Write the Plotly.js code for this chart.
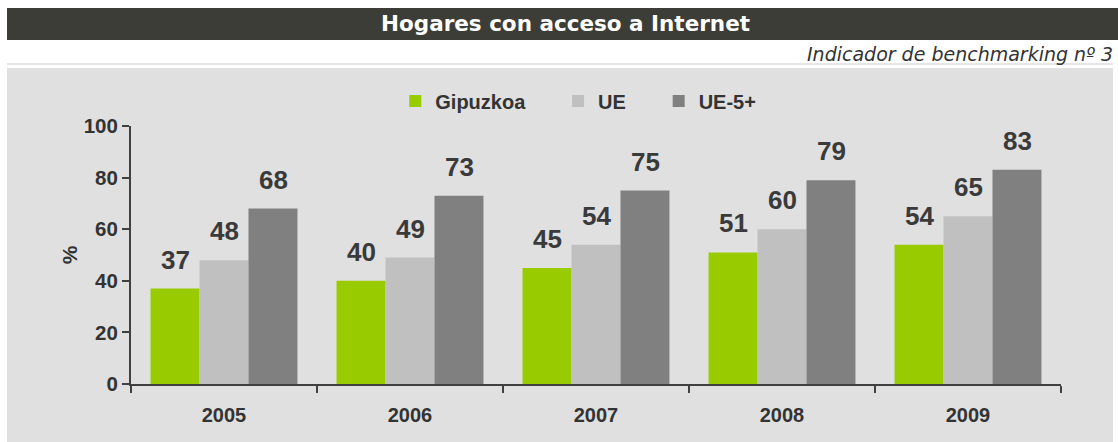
<!DOCTYPE html>
<html>
<head>
<meta charset="utf-8">
<script src="https://cdn.plot.ly/plotly-3.0.1.min.js"></script>
<style>
  body { margin: 0; background: #ffffff; }
  #chart { width: 1118px; height: 442px; }
</style>
</head>
<body>
<div id="chart"></div>
<script>
// Hogares con acceso a Internet (%)
const years = ['2005', '2006', '2007', '2008', '2009'];
const gipuzkoa = [37, 40, 45, 51, 54];
const ue = [48, 49, 54, 60, 65];
const ue5 = [68, 73, 75, 79, 83];
const yTicks = [0, 20, 40, 60, 80, 100];

const seriesNames = ['Gipuzkoa', 'UE', 'UE-5+'];
const seriesValues = [gipuzkoa, ue, ue5];
const seriesColors = ['#99cc00', '#c0c0c0', '#808080'];

const baseFont = "'Liberation Sans', Arial, sans-serif";
const legendPad = '\u00a0\u00a0\u00a0\u00a0\u00a0';

const traces = seriesNames.map((name, i) => ({
    type: 'bar',
    x: years,
    y: seriesValues[i],
    name: name + legendPad,
    marker: { color: seriesColors[i] },
    hovertemplate: '%{x}<br>' + name + ': %{y}<extra></extra>'
}));

// value labels above each bar (category index, shifted to the bar's slot in the group)
const barPx = 49;
const annotations = [];
seriesValues.forEach((vals, i) => {
    vals.forEach((v, j) => {
        annotations.push({
            x: j, y: v, xref: 'x', yref: 'y',
            text: String(v),
            showarrow: false,
            xanchor: 'center', yanchor: 'bottom',
            xshift: (i - 1) * barPx,
            yshift: 12,
            font: { family: baseFont, size: 26, color: '#3a3a3a', weight: 'bold' }
        });
    });
});

annotations.push(
    { text: 'Hogares con acceso a Internet', xref: 'paper', yref: 'paper',
      x: (565 - 131) / 930, y: (384 - 24) / 258, xanchor: 'center', yanchor: 'middle',
      showarrow: false, font: { family: 'DejaVu Sans, sans-serif', size: 21.5, color: '#ffffff', weight: 'bold' } },
    { text: '<i>Indicador de benchmarking nº 3</i>', xref: 'paper', yref: 'paper',
      x: (1115 - 131) / 930, y: (384 - 54) / 258, xanchor: 'right', yanchor: 'middle',
      showarrow: false, font: { family: 'DejaVu Sans, sans-serif', size: 19, color: '#333333' } }
);

const layout = {
    width: 1118,
    height: 442,
    paper_bgcolor: '#ffffff',
    plot_bgcolor: 'rgba(0,0,0,0)',
    margin: { l: 131, r: 57, t: 126, b: 58 },
    font: { family: baseFont, color: '#333333' },
    barmode: 'group',
    bargap: 0.21,
    bargroupgap: 0,
    showlegend: true,
    legend: {
        orientation: 'h',
        x: 0.496,
        xanchor: 'center',
        y: 1.097,
        yanchor: 'middle',
        bgcolor: 'rgba(0,0,0,0)',
        font: { family: baseFont, size: 20, color: '#333333', weight: 'bold' },
        itemwidth: 30,
        traceorder: 'normal'
    },
    xaxis: {
        type: 'category',
        categoryarray: years,
        range: [-0.5, years.length - 0.5],
        showline: true,
        linecolor: '#404040',
        linewidth: 2,
        ticks: 'outside',
        tickson: 'boundaries',
        ticklen: 7,
        tickwidth: 2,
        tickcolor: '#404040',
        showgrid: false,
        tickfont: { family: baseFont, size: 20, color: '#333333', weight: 'bold' },
        ticklabelstandoff: 12
    },
    yaxis: {
        range: [0, 100],
        tickvals: yTicks,
        showline: true,
        linecolor: '#404040',
        linewidth: 2,
        ticks: 'outside',
        ticklen: 7,
        tickwidth: 2,
        tickcolor: '#404040',
        showgrid: false,
        zeroline: false,
        tickfont: { family: baseFont, size: 20.5, color: '#333333', weight: 'bold' },
        title: { text: '%', font: { family: baseFont, size: 21, color: '#333333', weight: 'bold' }, standoff: 0 }
    },
    shapes: [
        // title bar
        { type: 'rect', xref: 'paper', yref: 'paper', layer: 'below',
          x0: -124 / 930, x1: (1118 - 131) / 930, y0: (384 - 40) / 258, y1: (384 - 8) / 258,
          fillcolor: '#3c3d37', line: { width: 0 } },
        // thin separator line
        { type: 'line', xref: 'paper', yref: 'paper', layer: 'below',
          x0: -124 / 930, x1: (1113 - 131) / 930, y0: (384 - 64) / 258, y1: (384 - 64) / 258,
          line: { color: '#e6e6e6', width: 2 } },
        // chart panel
        { type: 'rect', xref: 'paper', yref: 'paper', layer: 'below',
          x0: -124 / 930, x1: (1113 - 131) / 930, y0: -58 / 258, y1: (384 - 68) / 258,
          fillcolor: '#e0e0e0', line: { width: 0 } }
    ],
    annotations: annotations
};

const config = { displayModeBar: false, responsive: false };

Plotly.newPlot('chart', traces, layout, config);
</script>
</body>
</html>
